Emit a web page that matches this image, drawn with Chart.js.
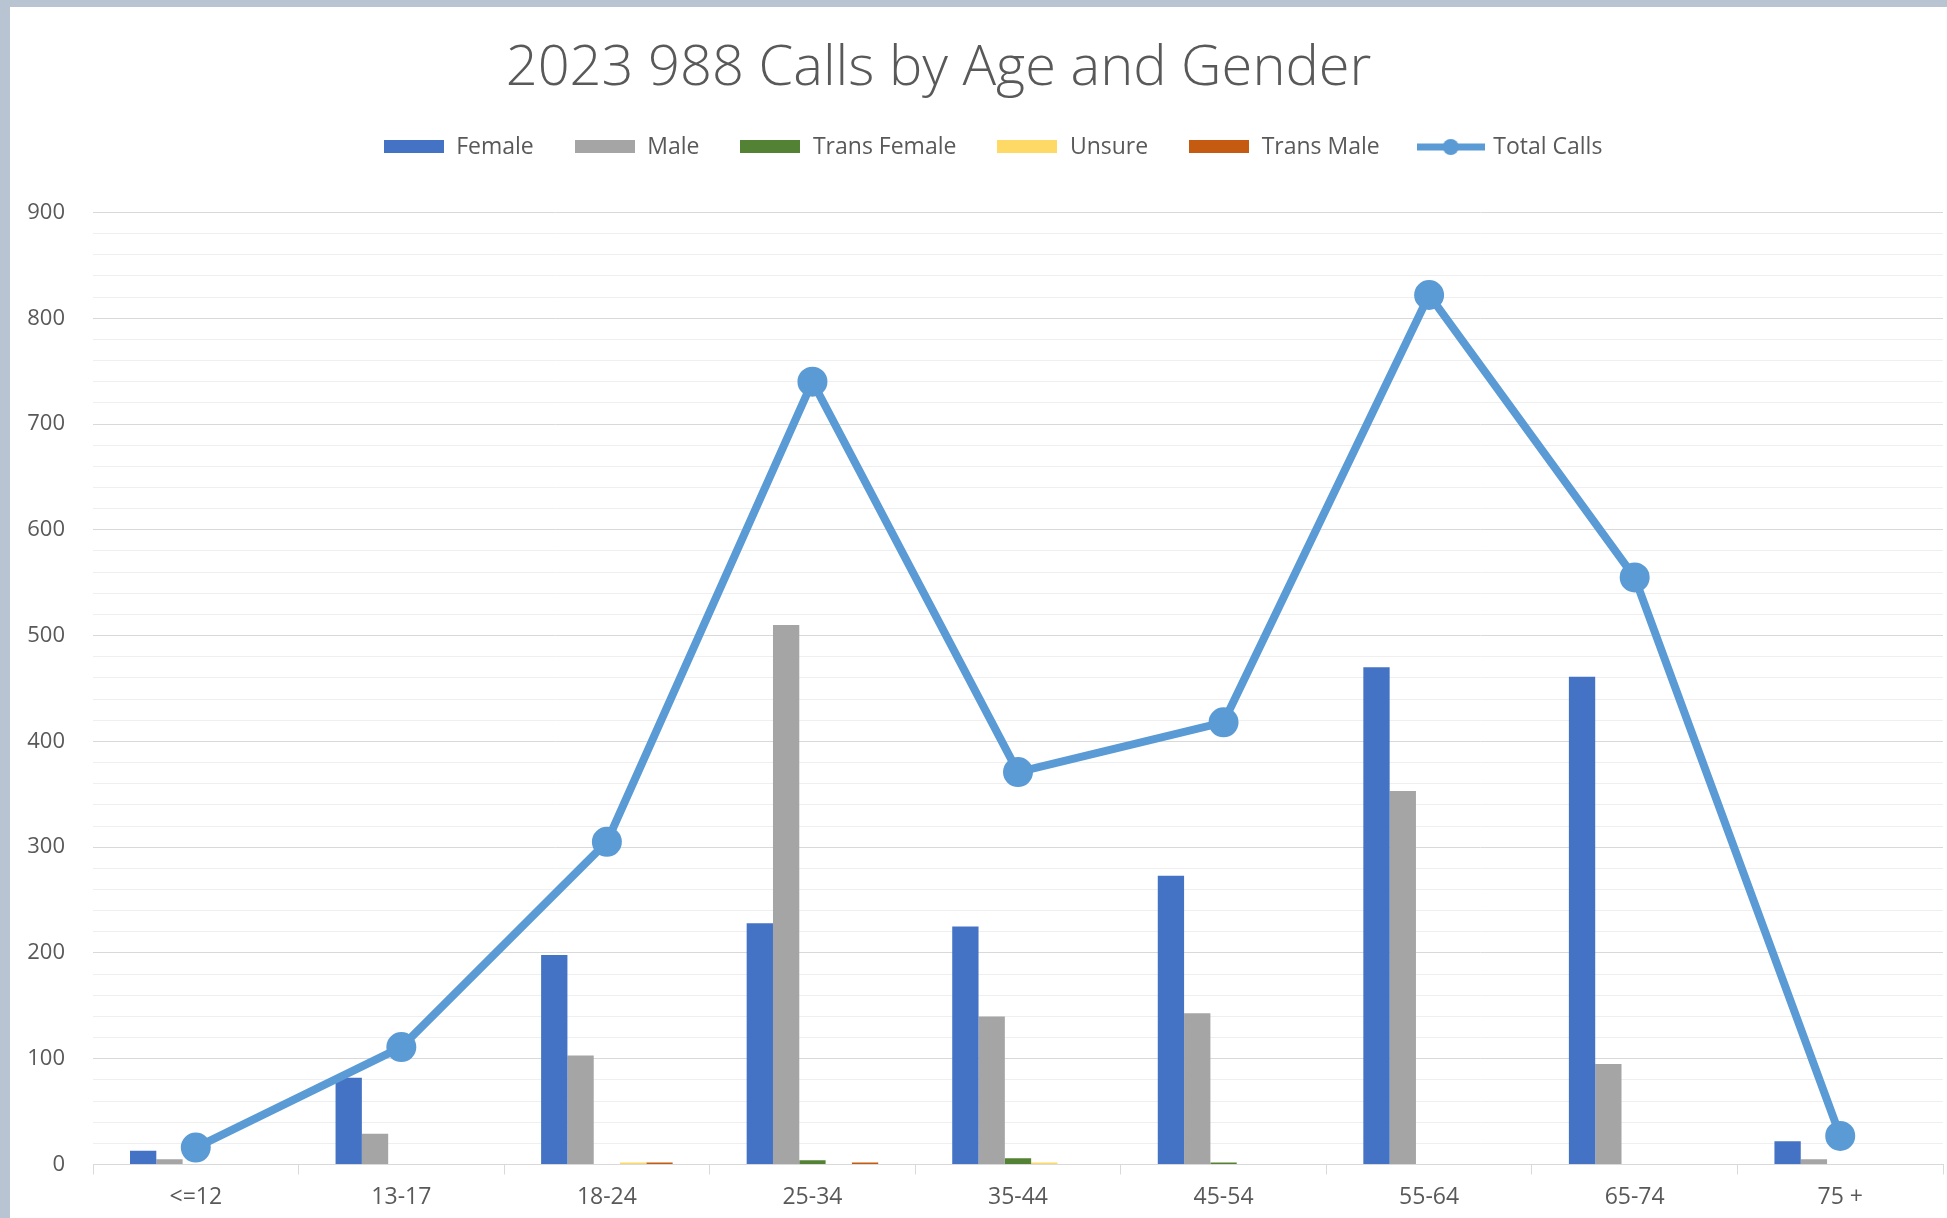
<!DOCTYPE html>
<html>
<head>
<meta charset="utf-8">
<script src="https://cdn.jsdelivr.net/npm/chart.js@4/dist/chart.umd.min.js"></script>
<style>
  html,body{margin:0;padding:0;background:#b9c4d3;overflow:hidden;}
  #wrap{position:absolute;left:10px;top:7px;width:1937px;height:1211px;background:#fff;}
</style>
</head>
<body>
<div id="wrap"><canvas id="c"></canvas></div>
<script>
// age groups on the x axis
const ages=['<=12','13-17','18-24','25-34','35-44','45-54','55-64','65-74','75 +'];
// calls per group
const female=[13,82,198,228,225,273,470,461,22];
const male=[5,29,103,510,140,143,353,95,5];
const transFemale=[0,0,0,4,6,2,0,0,0];
const unsure=[0,0,2,0,2,0,0,0,0];
const transMale=[0,0,2,2,0,0,0,0,0];
const totalCalls=[16,111,305,740,371,418,822,555,27];
const yTicks=[0,100,200,300,400,500,600,700,800,900];

const TXT='#595959';
const FONT='"Open Sans", sans-serif';

// little legend pictures, excel style
function boxImg(col){
  const c=document.createElement('canvas'); c.width=60; c.height=13;
  const x=c.getContext('2d'); x.fillStyle=col; x.fillRect(0,0,60,13);
  return c;
}
function lineImg(col){
  const c=document.createElement('canvas'); c.width=68; c.height=18;
  const x=c.getContext('2d');
  x.strokeStyle=col; x.lineWidth=7;
  x.beginPath(); x.moveTo(0,9); x.lineTo(68,9); x.stroke();
  x.fillStyle=col; x.beginPath(); x.arc(34,9,8,0,Math.PI*2); x.fill();
  return c;
}

const bar=(label,data,col)=>({type:'bar',label,data,backgroundColor:col,borderWidth:0,
  categoryPercentage:0.64,barPercentage:1,order:1});

const ds=[
  bar('Female',female,'#4472c4'),
  bar('Male',male,'#a5a5a5'),
  bar('Trans Female',transFemale,'#548235'),
  bar('Unsure',unsure,'#ffd966'),
  bar('Trans Male',transMale,'#c55a11'),
  {type:'line',label:'Total Calls',data:totalCalls,borderColor:'#5b9bd5',backgroundColor:'#5b9bd5',
   borderWidth:8,pointRadius:11,pointHoverRadius:11,tension:0,order:0},
];
const legendPics=[boxImg('#4472c4'),boxImg('#a5a5a5'),boxImg('#548235'),boxImg('#ffd966'),boxImg('#c55a11'),lineImg('#5b9bd5')];

// shift title / legend a bit, the excel chart was not centred
const nudge={id:'nudge',
  beforeInit(ch){
    const lg=ch.legend, fit=lg.fit;
    lg.fit=function(){ fit.call(this); this.height+=44; };
  },
  afterLayout(ch){
    const t=ch.titleBlock; t.left-=38; t.right-=38;
    const l=ch.legend; l.left+=16; l.right+=16;
  }};

new Chart(document.getElementById('c'),{
  data:{labels:ages,datasets:ds},
  plugins:[nudge],
  options:{
    responsive:true,maintainAspectRatio:false,animation:false,
    layout:{autoPadding:false,padding:{left:0,right:4,top:0,bottom:-1.5}},
    plugins:{
      title:{display:true,text:'2023 988 Calls by Age and Gender',color:TXT,
        font:{family:FONT,size:56,weight:'300',lineHeight:0.955},padding:{top:35,bottom:0}},
      legend:{position:'top',
        labels:{color:TXT,font:{family:FONT,size:23},padding:40,usePointStyle:true,pointStyleWidth:62,
          boxHeight:16,
          sort:(a,b)=>a.datasetIndex-b.datasetIndex,
          generateLabels(ch){
            const base=Chart.defaults.plugins.legend.labels.generateLabels(ch);
            base.forEach(it=>{it.pointStyle=legendPics[it.datasetIndex];});
            return base;
          }}},
      tooltip:{enabled:false}
    },
    scales:{
      x:{grid:{offset:true,drawOnChartArea:false,drawTicks:true,tickLength:10,color:'#d9d9d9'},
        border:{color:'#d9d9d9'},
        ticks:{color:TXT,font:{family:FONT,size:23,lineHeight:1},padding:11}},
      y:{min:0,max:900,
        afterFit(s){ s.width=83; },
        grid:{drawTicks:false,color:c=>yTicks.includes(c.tick.value)?'#d9d9d9':'#efefef'},
        border:{display:false},
        ticks:{stepSize:20,autoSkip:false,color:TXT,font:{family:FONT,size:22},padding:28,
          callback:v=>yTicks.includes(v)?v:''}}
    }
  }
});
</script>
</body>
</html>
